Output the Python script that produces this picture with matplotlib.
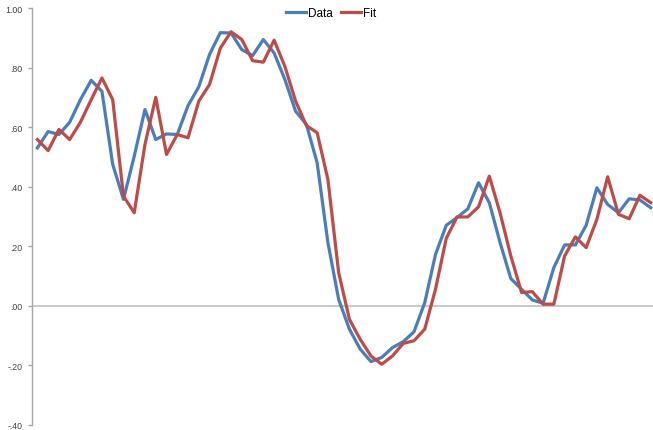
import matplotlib
matplotlib.use("Agg")
import matplotlib.pyplot as plt

# Observed series and its fitted counterpart
data = [0.531, 0.586, 0.576, 0.617, 0.693, 0.758, 0.721, 0.476, 0.358, 0.503,
        0.660, 0.559, 0.578, 0.576, 0.673, 0.736, 0.845, 0.918, 0.917, 0.861,
        0.841, 0.895, 0.850, 0.761, 0.654, 0.610, 0.481, 0.213, 0.022, -0.078,
        -0.145, -0.187, -0.173, -0.140, -0.120, -0.087, 0.011, 0.173, 0.271, 0.297,
        0.326, 0.414, 0.347, 0.213, 0.092, 0.056, 0.020, 0.009, 0.129, 0.205,
        0.205, 0.271, 0.397, 0.341, 0.313, 0.360, 0.356, 0.330]
fit = [0.559, 0.522, 0.593, 0.559, 0.617, 0.693, 0.766, 0.693, 0.369, 0.313,
       0.543, 0.701, 0.509, 0.576, 0.565, 0.688, 0.744, 0.866, 0.921, 0.895,
       0.824, 0.819, 0.893, 0.805, 0.688, 0.606, 0.582, 0.425, 0.112, -0.045,
       -0.112, -0.168, -0.196, -0.168, -0.126, -0.117, -0.078, 0.056, 0.227, 0.299,
       0.299, 0.333, 0.436, 0.313, 0.168, 0.045, 0.048, 0.006, 0.006, 0.168,
       0.232, 0.196, 0.291, 0.434, 0.308, 0.293, 0.372, 0.347]

y_ticks = [-0.4, -0.2, 0.0, 0.2, 0.4, 0.6, 0.8, 1.0]
y_tick_labels = ["-.40", "-.20", ".00", ".20", ".40", ".60", ".80", "1.00"]

plt.rcParams['font.family'] = ['Liberation Sans', 'DejaVu Sans']

W, H = 653, 431
fig = plt.figure(figsize=(W / 100, H / 100), dpi=100)
ax = fig.add_axes([32 / W, 5 / H, (W - 32) / W, (426 - 9.3) / H])

x = list(range(len(data)))
ax.plot(x, data, color='#4A7EBB', lw=2.3, label='Data', solid_joinstyle='round')
ax.plot(x, fit, color='#BE4B48', lw=2.3, label='Fit', solid_joinstyle='round')

ax.axhline(0, color='#BFBFBF', lw=1.2, zorder=0)

ax.set_xlim(-0.5, (W - 32) / 10.76 - 0.5)
ax.set_ylim(-0.4, 1.0)
ax.set_yticks(y_ticks)
ax.set_yticklabels(y_tick_labels)
ax.set_xticks([])

for s in ['top', 'right', 'bottom']:
    ax.spines[s].set_visible(False)
ax.spines['left'].set_color('#A6A6A6')
ax.spines['left'].set_linewidth(1.0)
ax.tick_params(axis='y', direction='out', length=3, width=1.0, color='#A6A6A6',
               labelsize=6.3, labelcolor='#404040', pad=4)

leg = fig.legend(*ax.get_legend_handles_labels(), loc='upper center',
                 bbox_to_anchor=(331 / W, 1.0 - 8 / H), ncol=2,
                 frameon=False, fontsize=8.5, handlelength=1.7, handletextpad=0.15,
                 columnspacing=0.7, borderaxespad=0, borderpad=0)

fig.savefig('out.png', dpi=100)
